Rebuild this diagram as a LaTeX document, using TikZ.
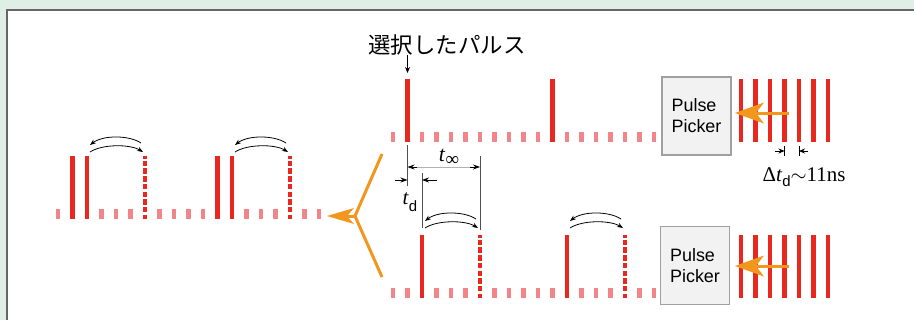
\documentclass[tikz,border=0pt]{standalone}
\usepackage{fontspec}
\setmainfont{Liberation Serif}
\setsansfont{Liberation Sans}
\newfontfamily\jpfont{Noto Sans CJK JP}
\usetikzlibrary{arrows.meta}
\definecolor{bggreen}{HTML}{DFEFE5}
\definecolor{framegray}{HTML}{666666}
\definecolor{pulsered}{HTML}{E8281E}
\definecolor{dotpink}{HTML}{F2858A}
\definecolor{orng}{HTML}{F3961E}
\definecolor{boxgray}{HTML}{A0A0A0}
\definecolor{boxfill}{HTML}{F2F2F2}
\definecolor{measgray}{HTML}{505050}
\newcommand{\arcpair}[3]{%
  \draw[arcline] ({#1+3},{#3-4}) .. controls ({#1+15},{#3-12}) and ({#2-15},{#3-12}) .. ({#2-2},{#3-4});
  \draw[arcline] ({#2-4},{#3-13}) .. controls ({#2-16},{#3-21}) and ({#1+16},{#3-21}) .. ({#1+3},{#3-11});
}
\begin{document}
\begin{tikzpicture}[x=1bp,y=-1bp,
  pulse/.style={draw=pulsered, line width=4.5bp},
  dashpulse/.style={pulse, dash pattern=on 5.5bp off 2.2bp, dash phase=3bp},
  dotbox/.style={fill=dotpink},
  arcline/.style={draw=black, line width=0.8bp, -{Stealth[length=6bp,width=4.5bp]}},
  picker/.style={draw=boxgray, fill=boxfill, line width=1.5bp, minimum width=69bp, minimum height=78bp, inner sep=0pt, align=left, font=\sffamily\fontsize{18}{21}\selectfont},
  orangeline/.style={draw=orng, line width=3bp, line join=round},
  pickarrow/.style={draw=orng, fill=orng, line width=3bp, -{Stealth[length=29bp,width=21bp,inset=8bp,line width=0pt]}},
  yarrow/.style={draw=orng, fill=orng, line width=3bp, -{Stealth[length=27bp,width=16bp,inset=7bp,line width=0pt]}},
  meas/.style={draw=measgray, line width=0.9bp},
  measarrow/.style={draw=black, line width=0.7bp, -{Stealth[length=7bp,width=5bp]}},
]
\useasboundingbox (0,0) rectangle (914,320);
% background panel
\fill[bggreen] (0,0) rectangle (914,320);
\fill[white] (6,9) rectangle (914,320);
\draw[framegray, line width=2bp] (7,320) -- (7,9.5) -- (914,9.5);

% ---------- top train ----------
\foreach \k in {0,2,3,4,5,6,7,8,9,10,12,13,14,15,16,17,18}
  \fill[dotbox] ({393+14.5*\k-2.25},132) rectangle ++(4.5,10);
\foreach \k in {1,11}
  \draw[pulse] ({393+14.5*\k},79) -- ++(0,63);

% label of selected pulse
\node[font=\jpfont\fontsize{22.5}{24}\selectfont] (sellabel) at (447,45) {選択したパルス};
\coordinate (selfrom) at (407.5,55);
\coordinate (selpulse) at (407.5,73);
\draw[black, line width=0.9bp, -{Stealth[length=6bp,width=5bp]}] (selfrom) -- (selpulse);

% ---------- bottom train ----------
\foreach \k in {0,1,3,4,5,7,8,9,10,11,13,14,15,17,18}
  \fill[dotbox] ({393+14.5*\k-2.25},288) rectangle ++(4.5,10);
\foreach \k in {2,12}
  \draw[pulse] ({393+14.5*\k},235) -- ++(0,63);
\foreach \k in {6,16}
  \draw[dashpulse] ({393+14.5*\k},235) -- ++(0,63);
\arcpair{422}{480}{232}
\arcpair{567}{625}{232}

% ---------- left combined train ----------
\foreach \k in {0,3,4,5,7,8,9,10,13,14,15,17,18}
  \fill[dotbox] ({58+14.5*\k-2.25},209) rectangle ++(4.5,10);
\foreach \k in {1,2,11,12}
  \draw[pulse] ({58+14.5*\k},156) -- ++(0,63);
\foreach \k in {6,16}
  \draw[dashpulse] ({58+14.5*\k},156) -- ++(0,63);
\arcpair{87}{145}{156}
\arcpair{232}{290}{156}

% ---------- source pulse bundles ----------
\foreach \j in {0,...,6} {
  \draw[pulse] ({741+14.5*\j},79) -- ++(0,63);
  \draw[pulse] ({741+14.5*\j},235) -- ++(0,63);
}

% ---------- pulse pickers ----------
\node[picker] (pp1) at (696.5,116) {Pulse\\Picker};
\node[picker] (pp2) at (695,265.5) {Pulse\\Picker};
\coordinate (src1) at (789,113);
\coordinate (tip1) at (735,113);
\coordinate (src2) at (789,266);
\coordinate (tip2) at (735,266);
\draw[pickarrow] (src1) -- (tip1);
\draw[pickarrow] (src2) -- (tip2);

% ---------- combining Y ----------
\coordinate (ya) at (382,154);
\coordinate (yb) at (382,277);
\coordinate (yj) at (355,216);
\coordinate (ytip) at (327,216);
\draw[orangeline] (ya) -- (yj) -- (yb);
\draw[yarrow] (yj) -- (ytip);

% ---------- Delta t_d marker ----------
\coordinate (dA) at (784.5,151);
\coordinate (dB) at (799,151);
\draw[black, line width=0.8bp] (784.5,146) -- (784.5,156);
\draw[black, line width=0.8bp] (799,146) -- (799,156);
\draw[black, line width=0.7bp, -{Stealth[length=6bp,width=5bp]}] (775,151) -- (dA);
\draw[black, line width=0.7bp, -{Stealth[length=6bp,width=5bp]}] (808,151) -- (dB);
\node[anchor=base, font=\fontsize{21}{24}\selectfont, inner sep=0pt] (dtlabel) at (804,181)
  {Δ\textit{t}\raisebox{-5bp}{\sffamily\fontsize{15}{15}\selectfont d}$\sim$11ns};

% ---------- t_d and t_inf measurement ----------
\coordinate (mA1) at (407.5,145);
\coordinate (mA2) at (407.5,186);
\coordinate (mB1) at (422,173);
\coordinate (mB2) at (422,228);
\coordinate (mC1) at (480,156);
\coordinate (mC2) at (480,230);
\draw[meas] (mA1) -- (mA2);
\draw[meas] (mB1) -- (mB2);
\draw[meas] (mC1) -- (mC2);
\draw[draw=gray!60, line width=0.5bp] (414,167) -- (473,167);
\draw[measarrow] (417,167) -- (407.5,167);
\draw[measarrow] (470,167) -- (480,167);
\draw[measarrow] (395,180) -- (407.5,180);
\draw[measarrow] (437,180) -- (422,180);
\node[font=\fontsize{22}{24}\selectfont, inner sep=0pt] (tinf) at (449,157)
  {\textit{t}\raisebox{-4bp}{\fontsize{19}{19}\selectfont ∞}};
\node[font=\fontsize{21}{24}\selectfont, inner sep=0pt] (tdlabel) at (410,202)
  {\textit{t}\raisebox{-7bp}{\sffamily\fontsize{15}{15}\selectfont d}};
\end{tikzpicture}
\end{document}
